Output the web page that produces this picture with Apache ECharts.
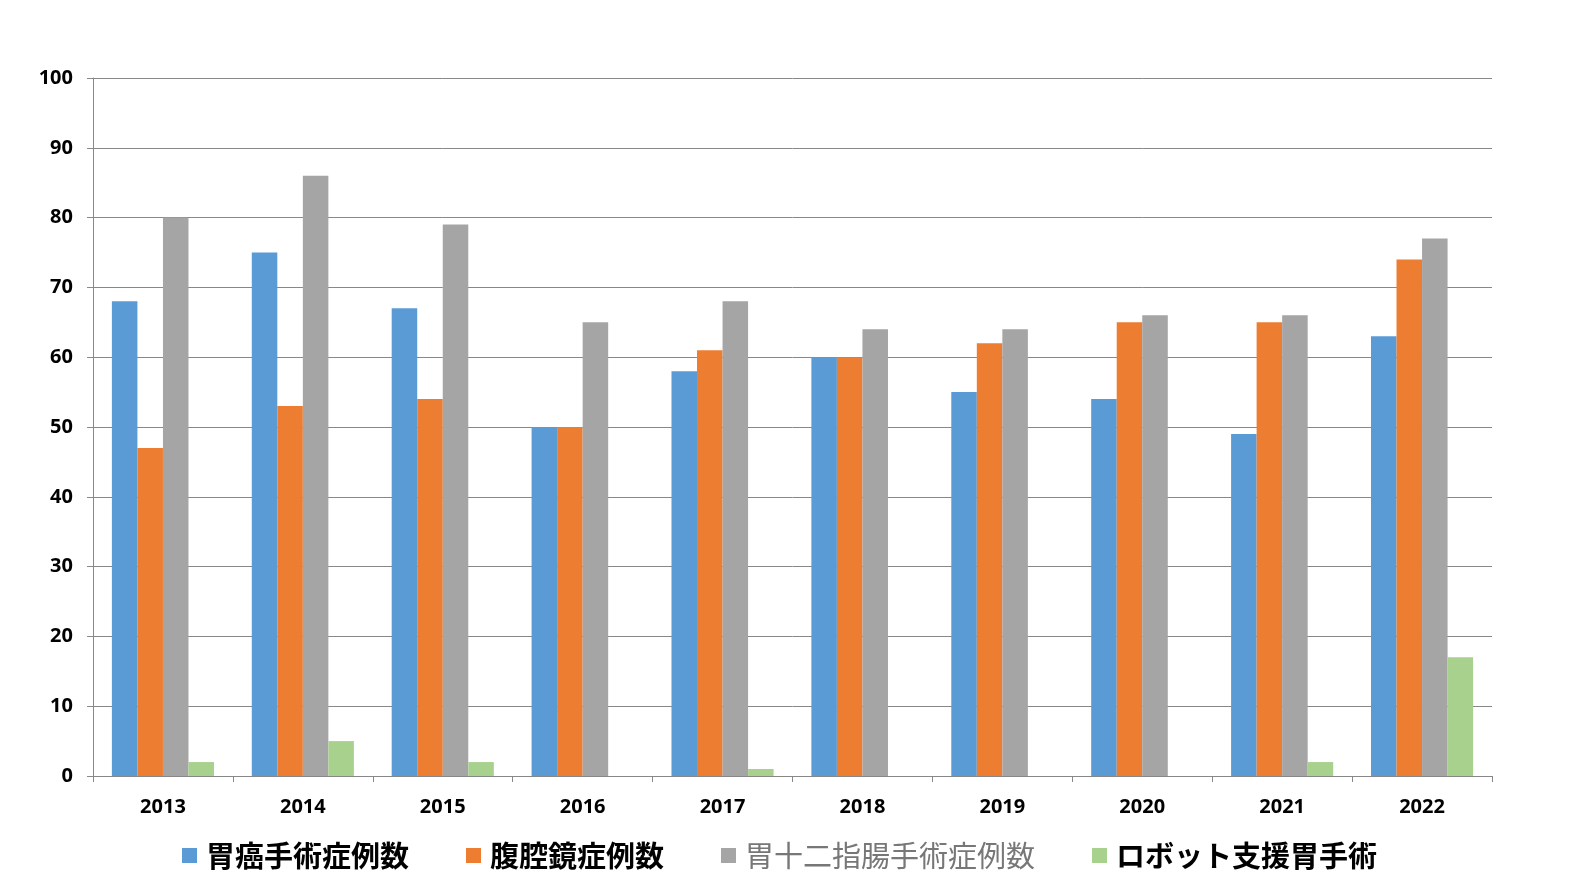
<!DOCTYPE html>
<html><head><meta charset="utf-8">
<script src="https://cdn.jsdelivr.net/npm/echarts@6/dist/echarts.min.js"></script>
<style>html,body{margin:0;padding:0;background:#fff}#c{width:1570px;height:882px}</style>
</head><body><div id="c"></div>
<script>
const categories = ['2013','2014','2015','2016','2017','2018','2019','2020','2021','2022'];
const seriesNames = ['胃癌手術症例数','腹腔鏡症例数','胃十二指腸手術症例数','ロボット支援胃手術'];
const gastric = [68,75,67,50,58,60,55,54,49,63];
const laparoscopic = [47,53,54,50,61,60,62,65,65,74];
const gastroduodenal = [80,86,79,65,68,64,64,66,66,77];
const robotic = [2,5,2,0,1,0,0,0,2,17];
const yTicks = [0,10,20,30,40,50,60,70,80,90,100];
const colors = ['#5b9bd5','#ed7d31','#a5a5a5','#a9d18e'];
const values = [gastric, laparoscopic, gastroduodenal, robotic];

const chart = echarts.init(document.getElementById('c'));
const font = '"Noto Sans", "Noto Sans CJK JP", sans-serif';
chart.setOption({
  animation:false,
  textStyle:{fontFamily:font},
  grid:{left:93,right:78,top:78,bottom:106,containLabel:false},
  legend:{
    top:836, left:177, itemWidth:15, itemHeight:15, itemGap:57, icon:'rect',
    textStyle:{fontSize:29,fontFamily:'"Noto Sans CJK JP", sans-serif',color:'#000',fontWeight:'bold',padding:[0,0,0,4]},
    data:[
      {name:seriesNames[0]},
      {name:seriesNames[1]},
      {name:seriesNames[2], textStyle:{color:'#777',fontWeight:'normal'}},
      {name:seriesNames[3]}
    ]
  },
  xAxis:{
    type:'category', data:categories,
    axisLine:{lineStyle:{color:'#888',width:1}},
    axisTick:{show:true,length:6,lineStyle:{color:'#888'}},
    axisLabel:{fontSize:20,fontWeight:'bold',color:'#000',margin:21,fontFamily:font}
  },
  yAxis:{
    type:'value', min:0, max:100, interval:10,
    axisLine:{show:true,lineStyle:{color:'#888'}},
    axisTick:{show:true,length:6,lineStyle:{color:'#888'}},
    splitLine:{lineStyle:{color:'#888'}},
    axisLabel:{fontSize:20,fontWeight:'bold',color:'#000',margin:20,fontFamily:font,
      formatter:v=>yTicks.includes(v)?String(v):''}
  },
  series: seriesNames.map((n,i)=>({
    name:n, type:'bar', data:values[i], barGap:'0%', barCategoryGap:'27%',
    itemStyle:{color:colors[i]}
  }))
});
</script></body></html>
